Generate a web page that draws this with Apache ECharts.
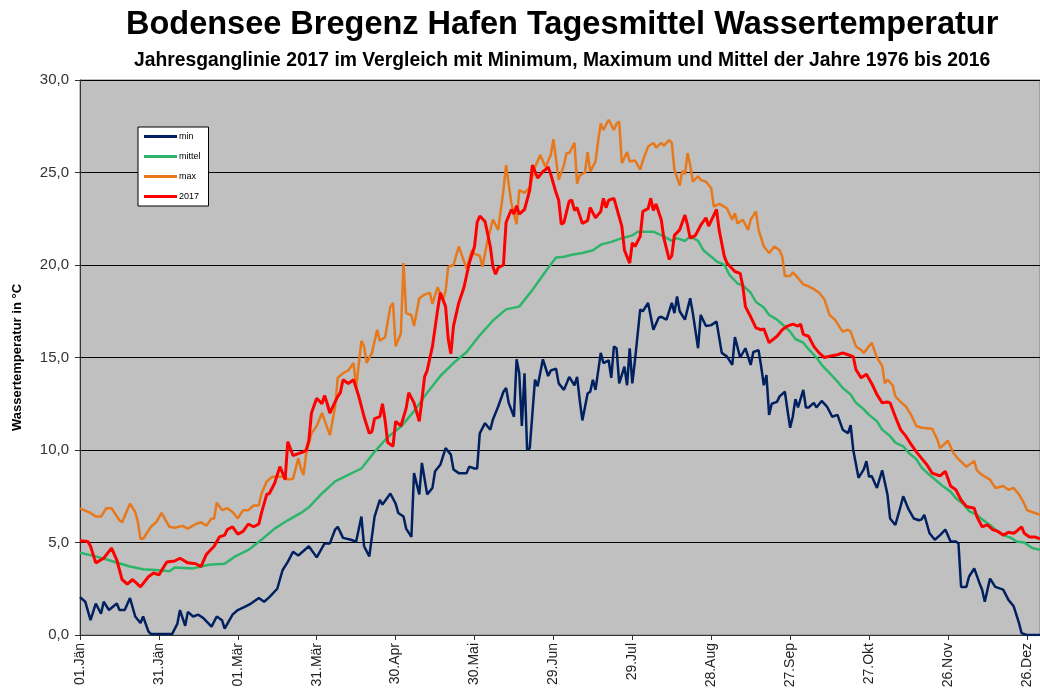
<!DOCTYPE html>
<html>
<head>
    <meta charset="utf-8">
    <title>Bodensee Bregenz Hafen Wassertemperatur</title>
    <script src="https://cdn.jsdelivr.net/npm/echarts@6/dist/echarts.min.js"></script>
    <style>
        body { margin: 0; background: #fff; }
    </style>
</head>
<body>
    <div id="chart" style="width: 1040px; height: 695px;"></div>
    <script>
        // x axis tick labels, one every 30 days (day index 0 = 01.Jän)
        var tickLabels = ['01.Jän', '31.Jän', '01.Mär', '31.Mär', '30.Apr', '30.Mai', '29.Jun',
                          '29.Jul', '28.Aug', '27.Sep', '27.Okt', '26.Nov', '26.Dez'];

        // [day, °C]
        var minValues = [
            [0,2.05],[2,1.8],[4,0.8],[6,1.7],[8,1.15],[9,1.8],[11,1.35],[14,1.7],[15,1.35],[17,1.35],
            [19,2.0],[21,1.0],[23,0.65],[24,1.0],[26,0.2],[27,0.05],[35,0.05],[37,0.6],[38,1.35],[40,0.5],
            [41,1.25],[43,1.0],[45,1.1],[47,0.9],[50,0.45],[52,1.0],[54,0.8],[55,0.35],[58,1.1],[60,1.35],
            [63,1.55],[65,1.7],[68,2.0],[70,1.8],[72,2.05],[75,2.5],[77,3.5],[79,3.95],[81,4.5],[83,4.3],
            [87,4.8],[89,4.4],[90,4.2],[93,4.95],[95,4.95],[97,5.7],[98,5.85],[100,5.25],[103,5.15],[105,5.05],
            [107,6.4],[108,4.8],[110,4.25],[112,6.4],[114,7.3],[115,7.05],[118,7.65],[120,7.1],[121,6.6],[123,6.4],
            [124,5.75],[126,5.3],[127,8.75],[129,7.6],[130,9.3],[132,7.6],[134,7.95],[135,8.85],[137,9.2],[139,10.1],
            [141,9.75],[142,8.95],[144,8.75],[147,8.75],[148,9.1],[150,9.0],[151,9.0],[152,10.9],[154,11.45],[156,11.1],
            [157,11.65],[159,12.35],[161,13.15],[162,13.35],[163,12.55],[165,11.8],[166,14.9],[167,14.15],[168,11.3],[169,14.15],
            [170,10.0],[171,10.1],[173,13.8],[174,13.45],[176,14.9],[178,14.0],[179,14.3],[181,14.4],[182,13.6],[184,13.25],
            [186,13.95],[188,13.5],[189,13.95],[190,12.7],[191,11.6],[193,13.05],[194,13.15],[195,13.8],[196,13.25],[198,15.25],
            [199,14.7],[201,14.85],[202,13.9],[203,15.6],[204,15.5],[205,13.6],[207,14.5],[208,13.5],[209,15.5],[210,13.6],
            [211,14.85],[213,17.6],[214,17.5],[216,17.95],[218,16.5],[220,17.15],[221,17.2],[223,17.05],[225,17.95],[226,17.4],
            [227,18.3],[228,17.5],[230,17.05],[232,18.2],[233,17.4],[235,15.5],[236,17.3],[238,16.7],[240,16.75],[242,16.95],
            [244,15.25],[246,15.05],[248,14.6],[249,16.1],[251,15.0],[253,15.5],[255,14.6],[256,15.3],[258,15.4],[259,14.5],
            [260,13.5],[261,14.05],[262,11.9],[263,12.5],[265,12.6],[266,12.9],[268,13.15],[269,12.15],[270,11.2],[271,11.8],
            [272,12.75],[273,12.3],[275,13.25],[276,12.3],[277,12.3],[279,12.55],[280,12.3],[282,12.65],[284,12.35],[286,11.8],
            [288,11.9],[290,11.1],[292,10.9],[293,11.35],[294,10.0],[296,8.5],[298,8.95],[299,9.4],[300,8.55],[301,8.6],
            [303,7.95],[305,8.9],[307,7.6],[308,6.3],[310,5.95],[312,6.95],[313,7.5],[315,6.8],[317,6.3],[319,6.2],
            [320,6.25],[321,6.5],[323,5.5],[325,5.15],[327,5.4],[329,5.7],[331,5.05],[333,5.05],[334,4.95],[335,2.6],
            [337,2.6],[338,3.15],[340,3.6],[342,2.8],[343,2.45],[344,1.8],[346,3.05],[348,2.6],[351,2.45],[353,1.9],
            [355,1.55],[357,0.65],[358,0.1],[360,0.0],[365,0.0]
        ];

        var mittelValues = [
            [0,4.45],[6,4.25],[12,4.0],[19,3.7],[24,3.55],[30,3.5],[34,3.45],[36,3.65],[43,3.6],[49,3.8],
            [55,3.85],[59,4.25],[64,4.6],[69,5.15],[74,5.75],[79,6.2],[84,6.6],[87,6.9],[92,7.65],[97,8.3],
            [102,8.65],[107,9.0],[112,9.9],[117,10.7],[122,11.25],[127,12.1],[132,13.1],[137,14.0],[142,14.7],[147,15.3],
            [152,16.2],[157,17.0],[162,17.6],[167,17.75],[172,18.65],[177,19.65],[181,20.4],[184,20.45],[187,20.55],[191,20.65],
            [195,20.8],[198,21.1],[202,21.25],[206,21.45],[210,21.6],[212,21.8],[216,21.8],[218,21.8],[222,21.55],[225,21.3],
            [227,21.45],[230,21.3],[232,21.55],[235,21.3],[237,20.8],[240,20.45],[242,20.2],[245,20.0],[247,19.45],[250,19.0],
            [252,18.9],[255,18.5],[257,18.0],[260,17.7],[262,17.3],[265,17.05],[267,16.8],[270,16.4],[272,16.0],[275,15.8],
            [277,15.45],[280,15.0],[282,14.6],[285,14.15],[288,13.7],[290,13.35],[293,13.0],[295,12.55],[298,12.2],[300,11.9],
            [303,11.55],[305,11.1],[308,10.75],[310,10.4],[313,10.2],[315,9.85],[318,9.5],[320,9.05],[323,8.65],[326,8.3],
            [328,8.05],[331,7.75],[333,7.4],[336,7.05],[338,6.7],[341,6.5],[343,6.25],[346,5.95],[348,5.7],[351,5.4],
            [354,5.25],[356,5.05],[359,5.0],[362,4.7],[365,4.6]
        ];

        var maxValues = [
            [0,6.85],[4,6.6],[6,6.4],[8,6.4],[10,6.85],[12,6.85],[15,6.2],[16,6.1],[19,7.1],[21,6.65],
            [22,6.1],[23,5.2],[24,5.2],[27,5.85],[29,6.1],[31,6.6],[34,5.85],[36,5.8],[39,5.9],[41,5.75],
            [44,6.0],[46,6.1],[48,5.9],[50,6.3],[51,6.3],[52,7.15],[54,6.75],[56,6.85],[58,6.65],[60,6.3],
            [62,6.75],[64,6.75],[66,7.0],[68,7.0],[69,7.65],[71,8.3],[73,8.55],[75,8.55],[78,8.55],[79,8.4],
            [81,8.45],[83,9.55],[84,9.0],[85,8.65],[86,9.8],[88,10.9],[90,11.3],[92,12.0],[93,11.6],[95,10.8],
            [97,12.35],[98,13.9],[100,14.15],[102,14.3],[104,14.7],[105,13.4],[107,15.9],[108,15.6],[109,14.7],[111,15.25],
            [113,16.5],[114,15.9],[116,16.1],[118,17.75],[119,17.95],[120,15.6],[122,16.3],[123,20.1],[124,17.4],[126,17.3],
            [127,16.7],[129,18.2],[131,18.4],[133,18.5],[134,17.9],[136,18.8],[138,18.1],[139,18.6],[140,19.9],[142,20.0],
            [144,21.0],[145,20.6],[147,19.8],[149,20.8],[150,20.6],[152,20.5],[153,19.9],[155,21.35],[157,22.45],[159,21.9],
            [161,24.05],[162,25.4],[164,23.35],[166,22.2],[167,24.05],[169,23.9],[171,24.2],[173,25.3],[175,25.95],[177,25.3],
            [179,25.95],[180,26.8],[182,24.6],[184,25.4],[185,26.05],[186,26.05],[188,26.6],[189,24.4],[190,24.85],[192,25.0],
            [193,26.1],[194,25.05],[196,25.6],[197,26.7],[198,27.65],[199,27.3],[201,27.85],[203,27.3],[204,27.65],[205,27.75],
            [206,25.5],[208,26.1],[209,25.6],[211,25.65],[213,25.15],[214,25.65],[216,26.4],[218,26.6],[219,26.35],[221,26.6],
            [222,26.45],[224,26.75],[225,26.6],[226,25.15],[228,24.3],[229,25.1],[230,24.9],[231,26.05],[232,25.4],[233,24.5],
            [235,24.8],[236,24.6],[238,24.5],[240,24.15],[241,23.15],[243,23.3],[245,23.15],[246,23.05],[248,22.45],[249,22.8],
            [250,22.25],[252,22.45],[254,21.9],[255,22.45],[257,22.9],[258,21.9],[260,21.0],[262,20.65],[264,21.0],[266,20.8],
            [267,20.45],[268,19.4],[270,19.4],[271,19.6],[273,19.3],[275,18.95],[277,18.85],[279,18.7],[281,18.5],[283,18.15],
            [285,17.3],[287,17.05],[289,16.6],[290,16.4],[292,16.5],[293,16.4],[295,15.6],[297,15.4],[298,15.25],[301,15.8],
            [303,15.0],[305,14.55],[306,13.6],[307,13.8],[309,13.5],[310,12.9],[312,12.6],[314,12.35],[316,11.9],[318,11.3],
            [320,11.2],[324,11.15],[326,10.55],[327,10.1],[330,10.5],[332,9.85],[334,9.5],[337,9.1],[340,9.4],[341,8.9],
            [343,8.65],[346,8.4],[348,7.95],[351,8.05],[353,7.85],[355,7.95],[357,7.6],[359,7.1],[360,6.75],[362,6.65],
            [365,6.5]
        ];

        var values2017 = [
            [0,5.1],[3,5.05],[4,4.8],[6,3.9],[9,4.15],[12,4.7],[14,4.05],[16,3.0],[18,2.75],[20,3.0],
            [23,2.6],[26,3.15],[28,3.35],[30,3.25],[33,3.95],[36,4.0],[38,4.15],[41,3.9],[44,3.85],[46,3.7],
            [48,4.35],[51,4.8],[53,5.3],[55,5.4],[56,5.7],[58,5.85],[60,5.45],[62,5.6],[64,6.0],[66,5.85],
            [68,6.0],[69,6.6],[71,7.6],[72,7.65],[74,8.2],[76,9.1],[78,8.4],[79,10.45],[81,9.7],[83,9.8],
            [85,9.9],[86,10.0],[87,10.5],[88,12.0],[90,12.8],[92,12.5],[93,12.95],[94,12.5],[95,12.0],[98,12.9],
            [99,13.1],[100,13.8],[102,13.6],[104,13.8],[106,12.9],[108,11.8],[110,10.9],[111,11.0],[112,11.7],[114,11.8],
            [115,12.5],[116,11.6],[117,10.4],[119,10.2],[120,11.55],[122,11.3],[124,12.25],[125,13.1],[127,12.55],[129,11.55],
            [130,12.7],[131,13.95],[132,14.3],[134,15.6],[136,17.6],[137,18.5],[139,17.75],[140,16.0],[141,15.2],[142,16.7],
            [144,17.95],[146,18.8],[148,20.1],[150,21.0],[151,22.3],[152,22.65],[154,22.35],[156,21.0],[157,19.9],[158,19.5],
            [159,19.85],[161,20.0],[162,22.3],[164,23.0],[165,22.75],[166,23.2],[167,22.75],[169,23.0],[171,24.05],[172,25.4],
            [174,24.7],[176,25.05],[177,25.15],[178,25.3],[179,24.9],[181,23.9],[182,23.5],[183,22.2],[184,22.3],[186,23.45],
            [187,23.5],[188,22.95],[189,23.1],[191,22.25],[193,22.4],[194,23.1],[196,22.55],[198,22.9],[199,23.6],[200,23.1],
            [201,23.5],[203,23.6],[204,23.1],[206,22.1],[207,20.8],[209,20.1],[210,21.2],[211,21.0],[213,21.55],[214,22.9],
            [216,23.05],[217,23.6],[218,22.95],[219,23.3],[221,22.45],[222,21.45],[224,20.3],[225,20.5],[226,21.6],[228,21.9],
            [230,22.7],[231,22.15],[232,21.45],[234,21.6],[236,22.15],[238,22.55],[239,22.1],[240,22.4],[242,23.0],[243,21.9],
            [245,20.45],[246,20.1],[247,19.95],[249,19.65],[251,19.55],[252,18.85],[253,17.75],[255,17.2],[257,16.6],[259,16.5],
            [260,16.55],[262,15.8],[265,16.15],[267,16.5],[269,16.7],[271,16.8],[273,16.7],[274,16.8],[275,16.25],[277,16.15],
            [279,15.6],[281,15.25],[283,15.0],[286,15.1],[288,15.15],[290,15.25],[292,15.15],[294,15.05],[295,14.35],[297,13.9],
            [299,14.1],[301,13.6],[303,13.0],[305,12.55],[307,12.6],[308,12.55],[310,11.8],[312,11.1],[314,10.75],[316,10.3],
            [318,9.9],[320,9.55],[322,9.2],[324,8.75],[326,8.65],[327,8.6],[329,8.85],[331,8.05],[333,7.85],[335,7.3],
            [337,6.95],[340,6.85],[341,6.4],[343,5.85],[345,5.95],[347,5.7],[349,5.6],[351,5.4],[353,5.55],[355,5.5],
            [356,5.6],[358,5.85],[359,5.5],[361,5.3],[363,5.3],[365,5.2]
        ];

        var chart = echarts.init(document.querySelector('#chart'));

        function lineSeries(name, data, color, width) {
            return {
                name: name,
                type: 'line',
                data: data,
                symbol: 'none',
                lineStyle: { color: color, width: width },
                itemStyle: { color: color },
                emphasis: { disabled: true }
            };
        }

        var option = {
            animation: false,
            textStyle: { fontFamily: 'Liberation Sans, Arial, sans-serif' },
            title: [
                {
                    text: 'Bodensee Bregenz Hafen Tagesmittel Wassertemperatur',
                    left: 121, top: 4,
                    textStyle: { fontSize: 32.5, fontWeight: 'bold', color: '#000' }
                },
                {
                    text: 'Jahresganglinie 2017 im Vergleich mit Minimum, Maximum und Mittel der Jahre 1976 bis 2016',
                    left: 129, top: 46,
                    textStyle: { fontSize: 19.3, fontWeight: 'bold', color: '#000' }
                }
            ],
            legend: {
                orient: 'vertical',
                left: 138, top: 127,
                padding: [4, 8, 4, 6],
                itemGap: 9,
                itemWidth: 33,
                itemHeight: 3,
                icon: 'rect',
                backgroundColor: '#fff',
                borderColor: '#000',
                borderWidth: 1,
                borderRadius: 0,
                textStyle: { fontSize: 9, color: '#000', lineHeight: 11, padding: [0, 0, 0, -3] },
                data: ['min', 'mittel', 'max', '2017']
            },
            grid: {
                left: 80, top: 80, right: -8, bottom: 60,
                show: true,
                backgroundColor: '#c0c0c0',
                borderColor: '#808080',
                borderWidth: 1
            },
            xAxis: {
                type: 'value',
                min: 0, max: 365, interval: 30,
                axisLine: { show: true, onZero: false, lineStyle: { color: '#333', width: 1 } },
                axisTick: { show: true, length: 5, lineStyle: { color: '#333' } },
                splitLine: { show: false },
                axisLabel: {
                    rotate: 90,
                    fontSize: 14,
                    color: '#222',
                    margin: 8,
                    formatter: function (v) {
                        return (v % 30 === 0 && tickLabels[v / 30]) ? tickLabels[v / 30] : '';
                    }
                }
            },
            yAxis: {
                type: 'value',
                min: 0, max: 30, interval: 5,
                name: 'Wassertemperatur in °C',
                nameLocation: 'middle',
                nameRotate: 90,
                nameGap: 56,
                nameTextStyle: { fontSize: 13, fontWeight: 'bold', color: '#000' },
                axisLine: { show: true, lineStyle: { color: '#333', width: 1 } },
                axisTick: { show: true, length: 5, lineStyle: { color: '#333' } },
                splitLine: { show: true, lineStyle: { color: '#000', width: 1 } },
                axisLabel: {
                    fontSize: 15,
                    color: '#333',
                    margin: 11,
                    formatter: function (v) { return v.toFixed(1).replace('.', ','); }
                }
            },
            series: [
                lineSeries('min', minValues, '#002060', 2.5),
                lineSeries('mittel', mittelValues, '#2db56a', 2.5),
                lineSeries('max', maxValues, '#e8781c', 2.5),
                lineSeries('2017', values2017, '#ff0000', 3)
            ]
        };
        chart.setOption(option);
    </script>
</body>
</html>
